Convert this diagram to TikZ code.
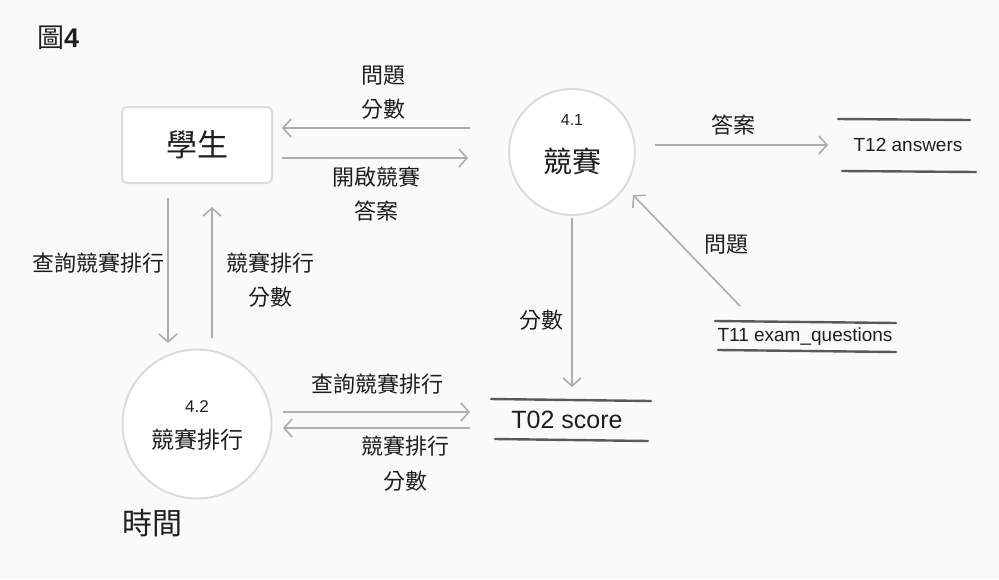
\documentclass[tikz,border=0pt]{standalone}
\usepackage{fontspec}
\setmainfont{Noto Sans CJK TC}
\newfontfamily\latinfont{Liberation Sans}
\usetikzlibrary{arrows.meta}
\definecolor{arr}{HTML}{ADADAD}
\definecolor{rim}{HTML}{DCDCDC}
\definecolor{storeline}{HTML}{5A5A5A}
\definecolor{ink}{HTML}{1E1E1E}
\tikzset{
  fs/.style={font=\fontsize{#1}{#1}\selectfont},
  lfs/.style={font=\fontsize{#1}{#1}\selectfont\latinfont},
  lbl/.style={text=ink, inner sep=0pt, fs=22},
  flow/.style={draw=arr, line width=1.6pt, -{Straight Barb[length=8pt,width=18pt,line width=1.6pt]}},
  storeln/.style={draw=storeline, line width=2.4pt, line cap=round},
  proc/.style={circle, draw=rim, line width=2pt, fill=white},
}
\begin{document}
\begin{tikzpicture}[x=1pt,y=-1pt]
\useasboundingbox[fill=white!98!black] (0,0) rectangle (999,579);
% title
\node[lbl, fs=27, anchor=west] (title) at (37,38) {圖{\latinfont\bfseries 4}};
% entity
\node[draw=rim, line width=2pt, rounded corners=5pt, fill=white, minimum width=150pt, minimum height=76pt] (stu) at (197,145) {};
\node[lbl, fs=31] (stut) at (197,145) {學生};
% process 4.1
\node[proc, minimum size=126pt] (p1) at (572,152) {};
\node[lbl, lfs=16] (p1n) at (572,120) {4.1};
\node[lbl, fs=29] (p1t) at (572,161) {競賽};
% process 4.2
\node[proc, minimum size=149pt] (p2) at (197,424) {};
\node[lbl, lfs=17] (p2n) at (197,407) {4.2};
\node[lbl, fs=23] (p2t) at (197,440) {競賽排行};
\node[lbl, fs=30, anchor=west] (time) at (122,523) {時間};
% stores
\coordinate (t12a) at (838,119); \coordinate (t12b) at (970,120);
\coordinate (t12c) at (842,171); \coordinate (t12d) at (976,172);
\draw[storeln] (t12a) -- (t12b); \draw[storeln] (t12c) -- (t12d);
\node[lbl, lfs=19] (t12) at (908,145) {T12 answers};
\coordinate (t11a) at (715,321); \coordinate (t11b) at (896,323);
\coordinate (t11c) at (718,350); \coordinate (t11d) at (896,352);
\draw[storeln] (t11a) -- (t11b); \draw[storeln] (t11c) -- (t11d);
\node[lbl, lfs=19] (t11) at (805,337) {T11 exam\_questions};
\coordinate (t02a) at (491,399); \coordinate (t02b) at (651,401);
\coordinate (t02c) at (495,439); \coordinate (t02d) at (648,441);
\draw[storeln] (t02a) -- (t02b); \draw[storeln] (t02c) -- (t02d);
\node[lbl, lfs=25] (t02) at (567,420) {T02 score};
% flow endpoints
\coordinate (a1s) at (470,128); \coordinate (a1e) at (282,128);
\coordinate (a2s) at (282,158); \coordinate (a2e) at (468,158);
\coordinate (a3s) at (655,145); \coordinate (a3e) at (828,145);
\coordinate (a4s) at (740,306); \coordinate (a4e) at (633,195);
\coordinate (a5s) at (572,218); \coordinate (a5e) at (572,387);
\coordinate (a6s) at (283,412); \coordinate (a6e) at (470,412);
\coordinate (a7s) at (470,428); \coordinate (a7e) at (283,428);
\coordinate (a8s) at (168,198); \coordinate (a8e) at (168,343);
\coordinate (a9s) at (212,338); \coordinate (a9e) at (212,207);
\draw[flow] (a1s) -- (a1e);
\draw[flow] (a2s) -- (a2e);
\draw[flow] (a3s) -- (a3e);
\draw[flow] (a4s) -- (a4e);
\draw[flow] (a5s) -- (a5e);
\draw[flow] (a6s) -- (a6e);
\draw[flow] (a7s) -- (a7e);
\draw[flow] (a8s) -- (a8e);
\draw[flow] (a9s) -- (a9e);
% labels
\node[lbl] (l1a) at (383,76) {問題};
\node[lbl] (l1b) at (383,109) {分數};
\node[lbl] (l2a) at (376,177) {開啟競賽};
\node[lbl] (l2b) at (376,211) {答案};
\node[lbl] (l3) at (733,125) {答案};
\node[lbl] (l4) at (726,245) {問題};
\node[lbl] (l5) at (541,320) {分數};
\node[lbl] (l6) at (377,384) {查詢競賽排行};
\node[lbl] (l7a) at (405,446) {競賽排行};
\node[lbl] (l7b) at (405,481) {分數};
\node[lbl] (l8) at (98,263) {查詢競賽排行};
\node[lbl] (l9a) at (270,263) {競賽排行};
\node[lbl] (l9b) at (270,297) {分數};
\end{tikzpicture}
\end{document}
